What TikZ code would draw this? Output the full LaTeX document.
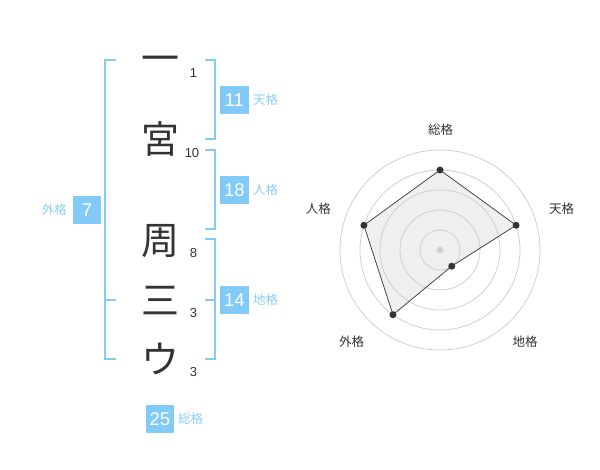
\documentclass[tikz,border=0pt]{standalone}
\usepackage{fontspec}
\setmainfont{Liberation Sans}
\newfontfamily\jp{Noto Sans CJK JP}
\definecolor{kblue}{HTML}{82CBF8}
\definecolor{klabel}{HTML}{8ACFF6}
\definecolor{kdark}{HTML}{333333}
\definecolor{kring}{HTML}{CFCFCF}
\definecolor{kfill}{HTML}{EFEFEF}
\begin{document}
\begin{tikzpicture}[x=1pt,y=-1pt,
  kchar/.style={font=\jp\fontsize{38}{38}\selectfont, text=kdark, inner sep=0pt, text height=33.4pt, text depth=4.6pt},
  knum/.style={font=\fontsize{13}{13}\selectfont, text=kdark, inner sep=0pt, text height=9.3pt, text depth=0pt},
  kbox/.style={fill=kblue, text=white, font=\fontsize{18.5}{18.5}\selectfont, minimum width=28.7pt, minimum height=28.5pt, inner sep=0pt, text height=13.2pt, text depth=0pt},
  blab/.style={font=\jp\fontsize{12.5}{12.5}\selectfont, text=klabel, inner sep=0pt, text height=11pt, text depth=1.5pt},
  rlab/.style={font=\jp\fontsize{12.5}{12.5}\selectfont, text=kdark, inner sep=0pt, text height=11pt, text depth=1.5pt},
  kbracket/.style={draw=kblue, line width=2pt},
  ring/.style={draw=kring, line width=0.8pt},
  kdot/.style={circle, fill=kdark, inner sep=0pt, minimum size=7pt}]
\useasboundingbox (0,0) rectangle (600,470);
% characters
\node[kchar] (c1) at (160,58) {一};
\node[kchar] (c2) at (160,139) {宮};
\node[kchar] (c3) at (160,240) {周};
\node[kchar] (c4) at (160,300) {三};
\node[kchar] (c5) at (160,359) {ウ};
% stroke numbers
\node[knum] (n1) at (193.5,73.3) {1};
\node[knum] (n2) at (192,153.3) {10};
\node[knum] (n3) at (193.5,253.3) {8};
\node[knum] (n4) at (193.5,313.3) {3};
\node[knum] (n5) at (193.5,372) {3};
% brackets
\draw[kbracket] (116,60) -- (105,60) -- (105,359.3) -- (116,359.3);
\draw[kbracket] (105,300) -- (116,300);
\draw[kbracket] (205,60) -- (215,60) -- (215,139.3) -- (205,139.3);
\draw[kbracket] (205,150) -- (215,150) -- (215,229.3) -- (205,229.3);
\draw[kbracket] (205,239.3) -- (215,239.3) -- (215,359.3) -- (205,359.3);
\draw[kbracket] (205,300) -- (215,300);
% boxes and labels
\node[kbox] (b1) at (234.3,100) {11};
\node[blab, anchor=west] (l1) at (253,100) {天格};
\node[kbox] (b2) at (234.3,190) {18};
\node[blab, anchor=west] (l2) at (253,190) {人格};
\node[kbox] (b3) at (234.3,300) {14};
\node[blab, anchor=west] (l3) at (253,300) {地格};
\node[kbox] (b4) at (87,210) {7};
\node[blab, anchor=east] (l4) at (67,210) {外格};
\node[kbox] (b5) at (160,419) {25};
\node[blab, anchor=west] (l5) at (178,419) {総格};
% radar chart
\coordinate (rc) at (440,250);
\path (rc) ++(90:80pt) coordinate (p1);
\path (rc) ++(18:80pt) coordinate (p2);
\path (rc) ++(-54:20pt) coordinate (p3);
\path (rc) ++(-126:80pt) coordinate (p4);
\path (rc) ++(162:80pt) coordinate (p5);
\fill[kfill] (p1) -- (p2) -- (p3) -- (p4) -- (p5) -- cycle;
\foreach \r in {20,40,60,80,100} \draw[ring] (rc) circle (\r pt);
\draw[kdark, line width=0.7pt] (p1) -- (p2) -- (p3) -- (p4) -- (p5) -- cycle;
\fill[kring] (rc) circle (3.2pt);
\foreach \p in {p1,p2,p3,p4,p5} \node[kdot] at (\p) {};
\node[rlab] (r1) at (440.7,130) {総格};
\node[rlab] (r2) at (561.7,208.3) {天格};
\node[rlab] (r3) at (525,341.7) {地格};
\node[rlab] (r4) at (351.7,341.7) {外格};
\node[rlab] (r5) at (318.3,208.3) {人格};
\end{tikzpicture}
\end{document}
